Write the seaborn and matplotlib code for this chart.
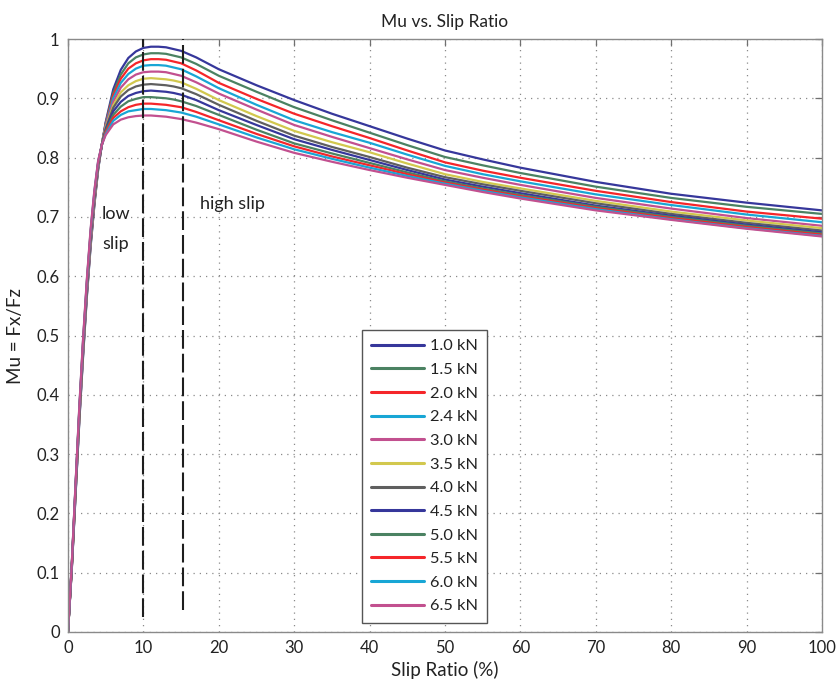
import matplotlib
matplotlib.use("Agg")
import matplotlib.pyplot as plt
from matplotlib.lines import Line2D
import seaborn as sns
import pandas as pd

# ---------------- data ----------------
slip = [0, 0.5, 1, 1.5, 2, 2.5, 3, 3.5, 4, 4.5, 5, 6, 7, 8, 9, 10, 11, 12, 13, 14, 15, 17,
        20, 25, 30, 35, 40, 45, 50, 55, 60, 70, 80, 90, 100]

loads = ["1.0 kN", "1.5 kN", "2.0 kN", "2.4 kN", "3.0 kN", "3.5 kN",
         "4.0 kN", "4.5 kN", "5.0 kN", "5.5 kN", "6.0 kN", "6.5 kN"]

mu_1_0 = [0, 0.105, 0.230, 0.355, 0.465, 0.565, 0.650, 0.720, 0.780, 0.823, 0.860, 0.915, 0.948, 0.968, 0.979, 0.985, 0.987, 0.987, 0.986, 0.983, 0.980, 0.969, 0.949, 0.922, 0.897, 0.874, 0.853, 0.832, 0.812, 0.797, 0.783, 0.759, 0.739, 0.724, 0.711]
mu_1_5 = [0, 0.106, 0.232, 0.357, 0.468, 0.568, 0.653, 0.722, 0.781, 0.823, 0.858, 0.909, 0.940, 0.959, 0.969, 0.974, 0.976, 0.976, 0.975, 0.972, 0.969, 0.958, 0.938, 0.911, 0.885, 0.863, 0.842, 0.821, 0.801, 0.787, 0.774, 0.751, 0.732, 0.717, 0.705]
mu_2_0 = [0, 0.107, 0.234, 0.360, 0.470, 0.570, 0.655, 0.725, 0.783, 0.823, 0.857, 0.905, 0.933, 0.950, 0.959, 0.964, 0.966, 0.966, 0.965, 0.962, 0.959, 0.947, 0.926, 0.899, 0.874, 0.853, 0.833, 0.812, 0.792, 0.778, 0.766, 0.744, 0.725, 0.709, 0.697]
mu_2_4 = [0, 0.108, 0.235, 0.362, 0.473, 0.573, 0.658, 0.727, 0.784, 0.823, 0.855, 0.900, 0.926, 0.941, 0.950, 0.955, 0.956, 0.956, 0.955, 0.952, 0.949, 0.937, 0.917, 0.889, 0.863, 0.843, 0.825, 0.805, 0.786, 0.772, 0.760, 0.738, 0.720, 0.704, 0.691]
mu_3_0 = [0, 0.109, 0.237, 0.364, 0.476, 0.576, 0.661, 0.729, 0.785, 0.823, 0.853, 0.894, 0.918, 0.932, 0.940, 0.944, 0.945, 0.945, 0.944, 0.941, 0.938, 0.927, 0.908, 0.881, 0.855, 0.835, 0.816, 0.797, 0.779, 0.766, 0.754, 0.732, 0.714, 0.698, 0.685]
mu_3_5 = [0, 0.110, 0.239, 0.366, 0.479, 0.579, 0.664, 0.731, 0.787, 0.823, 0.851, 0.888, 0.910, 0.922, 0.929, 0.933, 0.934, 0.933, 0.932, 0.930, 0.927, 0.916, 0.897, 0.870, 0.845, 0.826, 0.809, 0.790, 0.772, 0.759, 0.748, 0.727, 0.709, 0.694, 0.681]
mu_4_0 = [0, 0.110, 0.241, 0.369, 0.481, 0.581, 0.666, 0.734, 0.788, 0.822, 0.849, 0.884, 0.903, 0.914, 0.920, 0.923, 0.924, 0.923, 0.922, 0.920, 0.917, 0.907, 0.889, 0.862, 0.837, 0.818, 0.801, 0.783, 0.767, 0.755, 0.744, 0.723, 0.705, 0.690, 0.677]
mu_4_5 = [0, 0.111, 0.243, 0.371, 0.484, 0.584, 0.669, 0.736, 0.790, 0.822, 0.847, 0.878, 0.894, 0.904, 0.909, 0.912, 0.913, 0.912, 0.911, 0.909, 0.906, 0.897, 0.880, 0.855, 0.831, 0.813, 0.796, 0.779, 0.763, 0.751, 0.740, 0.719, 0.702, 0.687, 0.674]
mu_5_0 = [0, 0.112, 0.245, 0.373, 0.487, 0.587, 0.672, 0.738, 0.791, 0.822, 0.845, 0.872, 0.886, 0.895, 0.899, 0.902, 0.902, 0.901, 0.900, 0.898, 0.895, 0.887, 0.872, 0.847, 0.824, 0.807, 0.791, 0.775, 0.760, 0.748, 0.737, 0.717, 0.700, 0.685, 0.672]
mu_5_5 = [0, 0.113, 0.246, 0.375, 0.490, 0.590, 0.675, 0.740, 0.792, 0.822, 0.843, 0.867, 0.878, 0.885, 0.889, 0.891, 0.891, 0.890, 0.889, 0.887, 0.885, 0.877, 0.863, 0.840, 0.819, 0.802, 0.787, 0.772, 0.758, 0.746, 0.735, 0.715, 0.698, 0.683, 0.670]
mu_6_0 = [0, 0.114, 0.248, 0.378, 0.492, 0.592, 0.677, 0.743, 0.794, 0.822, 0.840, 0.862, 0.872, 0.878, 0.880, 0.882, 0.882, 0.881, 0.880, 0.878, 0.876, 0.869, 0.856, 0.834, 0.814, 0.798, 0.783, 0.769, 0.756, 0.744, 0.733, 0.713, 0.696, 0.681, 0.668]
mu_6_5 = [0, 0.115, 0.250, 0.380, 0.495, 0.595, 0.680, 0.745, 0.795, 0.822, 0.838, 0.856, 0.864, 0.868, 0.870, 0.871, 0.871, 0.870, 0.869, 0.867, 0.865, 0.859, 0.848, 0.827, 0.808, 0.793, 0.779, 0.766, 0.754, 0.742, 0.731, 0.711, 0.695, 0.680, 0.667]

curves = [mu_1_0, mu_1_5, mu_2_0, mu_2_4, mu_3_0, mu_3_5,
          mu_4_0, mu_4_5, mu_5_0, mu_5_5, mu_6_0, mu_6_5]

low_high_bounds = [10, 15.2]
bound_bottoms = [0.026, 0.037]
x_ticks = [0, 10, 20, 30, 40, 50, 60, 70, 80, 90, 100]
y_ticks = [0, 0.1, 0.2, 0.3, 0.4, 0.5, 0.6, 0.7, 0.8, 0.9, 1.0]
y_tick_labels = ["0", "0.1", "0.2", "0.3", "0.4", "0.5", "0.6", "0.7", "0.8", "0.9", "1"]

# ---------------- style ----------------
sns.set_style("white")
plt.rcParams["font.family"] = ["Lato", "DejaVu Sans"]

colors = ["#36379b", "#4b8262", "#f5262a", "#18a6d5", "#c2508f", "#d2c84e",
          "#5f5f5f", "#36379b", "#4b8262", "#f5262a", "#18a6d5", "#c2508f"]

rows = []
for lab, vals in zip(loads, curves):
    for s, m in zip(slip, vals):
        rows.append({"slip": s, "mu": m, "load": lab})
df = pd.DataFrame(rows)

fig = plt.figure(figsize=(8.38, 6.83), dpi=100)
ax = fig.add_axes([68 / 838, 1 - 632 / 683, (822 - 68) / 838, (632 - 39) / 683])

sns.lineplot(data=df, x="slip", y="mu", hue="load", hue_order=loads,
             palette=colors, linewidth=1.6, ax=ax, sort=False, legend=False)

for xb, ybot in zip(low_high_bounds, bound_bottoms):
    ax.plot([xb, xb], [ybot, 1.0], color="#1e1e1e", linewidth=1.5,
            dashes=(9, 2.4), solid_capstyle="butt", zorder=5)

ax.text(4.5, 0.705, "low", fontsize=13, va="center", ha="left", color="#222")
ax.text(4.5, 0.655, "slip", fontsize=13, va="center", ha="left", color="#222")
ax.text(17.5, 0.722, "high slip", fontsize=13, va="center", ha="left", color="#222")

ax.set_xlim(0, 100)
ax.set_ylim(0, 1)
ax.set_xticks(x_ticks)
ax.set_yticks(y_ticks)
ax.set_yticklabels(y_tick_labels)
ax.grid(True, linestyle=(0, (1, 4)), color="#8a8a8a", linewidth=0.9)
ax.tick_params(direction="in", length=5, width=0.9, color="#707070",
               top=True, right=True, labelsize=12, labelcolor="#222", pad=6)
for sp in ax.spines.values():
    sp.set_color("#8a8a8a")
    sp.set_linewidth(1.0)

ax.set_xlabel("Slip Ratio (%)", fontsize=13.5, color="#222", labelpad=3)
ax.set_ylabel("Mu = Fx/Fz", fontsize=13.5, color="#222", labelpad=9)
ax.set_title("Mu vs. Slip Ratio", fontsize=12.5, color="#222", pad=9)

handles = [Line2D([0], [0], color=c, linewidth=2.2) for c in colors]
leg = ax.legend(handles, loads, loc="lower left", bbox_to_anchor=(0.39, 0.016),
                fontsize=11.8, handlelength=3.2, labelspacing=0.56,
                handletextpad=0.4, borderpad=0.55, fancybox=False,
                framealpha=1, edgecolor="#555555", borderaxespad=0)
leg.get_frame().set_linewidth(1.0)
for t in leg.get_texts():
    t.set_color("#222")

fig.savefig("out.png", dpi=100)
